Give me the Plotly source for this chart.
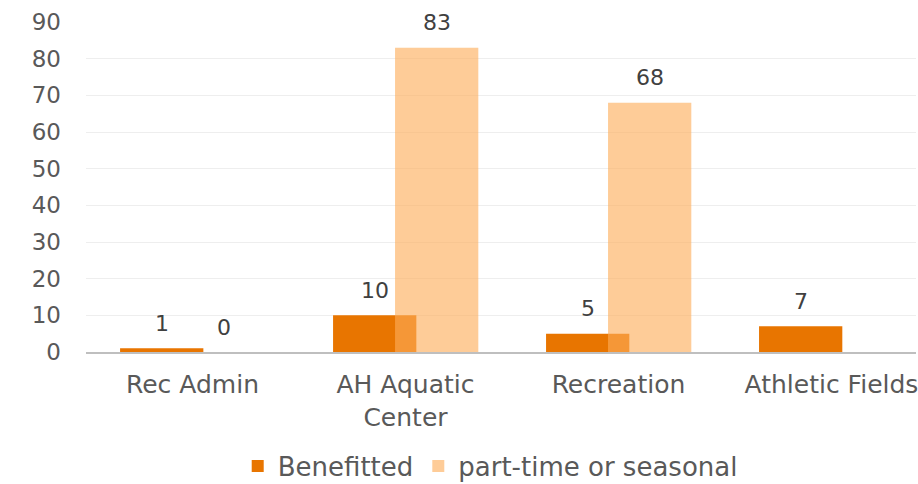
import plotly.graph_objects as go

categories = ["Rec Admin", "AH Aquatic<br>Center", "Recreation", "Athletic Fields"]
benefitted = [1, 10, 5, 7]
part_time = [0, 83, 68, None]
series_names = ["Benefitted", "part-time or seasonal"]
y_ticks = [0, 10, 20, 30, 40, 50, 60, 70, 80, 90]

FONT = "DejaVu Sans"
BAR_W = 0.391
OFF_B = -0.34
OFF_P = -0.049
C_B = "rgb(232,117,0)"
C_P = "rgba(253,172,89,0.62)"

fig = go.Figure()
fig.add_trace(go.Bar(
    x=categories, y=benefitted, name=series_names[0],
    marker=dict(color=C_B, line=dict(width=0)),
    width=BAR_W, offset=OFF_B,
))
fig.add_trace(go.Bar(
    x=categories, y=part_time, name=series_names[1],
    marker=dict(color=C_P, line=dict(width=0)),
    width=BAR_W, offset=OFF_P,
))

annotations = []
for vals, off in ((benefitted, OFF_B), (part_time, OFF_P)):
    for i, v in enumerate(vals):
        if v is not None:
            annotations.append(dict(x=i + off + BAR_W / 2, y=v, xref="x", yref="y",
                                    text=str(v), showarrow=False, yshift=25,
                                    font=dict(family=FONT, size=22, color="#404040")))

fig.update_layout(
    width=918, height=484,
    margin=dict(l=86, r=0, t=22, b=132),
    barmode="overlay",
    plot_bgcolor="white", paper_bgcolor="white",
    font=dict(family=FONT, color="#595959", size=22),
    annotations=annotations,
    showlegend=True,
    legend=dict(orientation="h", x=0.487, xanchor="center",
                yref="container", y=(484 - 466) / 484, yanchor="middle",
                font=dict(family=FONT, size=26, color="#595959"),
                itemsizing="constant", traceorder="normal"),
    xaxis=dict(
        type="category", range=[-0.5, -0.5 + 832 / 213.5],
        showline=True, linecolor="#bfbfbf", linewidth=2,
        showgrid=False, ticks="", ticklabelstandoff=9,
        tickfont=dict(family=FONT, size=25, color="#595959"),
    ),
    yaxis=dict(
        range=[0, 90], tickvals=y_ticks, showgrid=True, gridcolor="#eeeeee", gridwidth=1,
        zeroline=False, showline=False, ticks="", ticklabelstandoff=24,
        tickfont=dict(family=FONT, size=23, color="#595959"),
    ),
)

fig.write_html("out.html")
